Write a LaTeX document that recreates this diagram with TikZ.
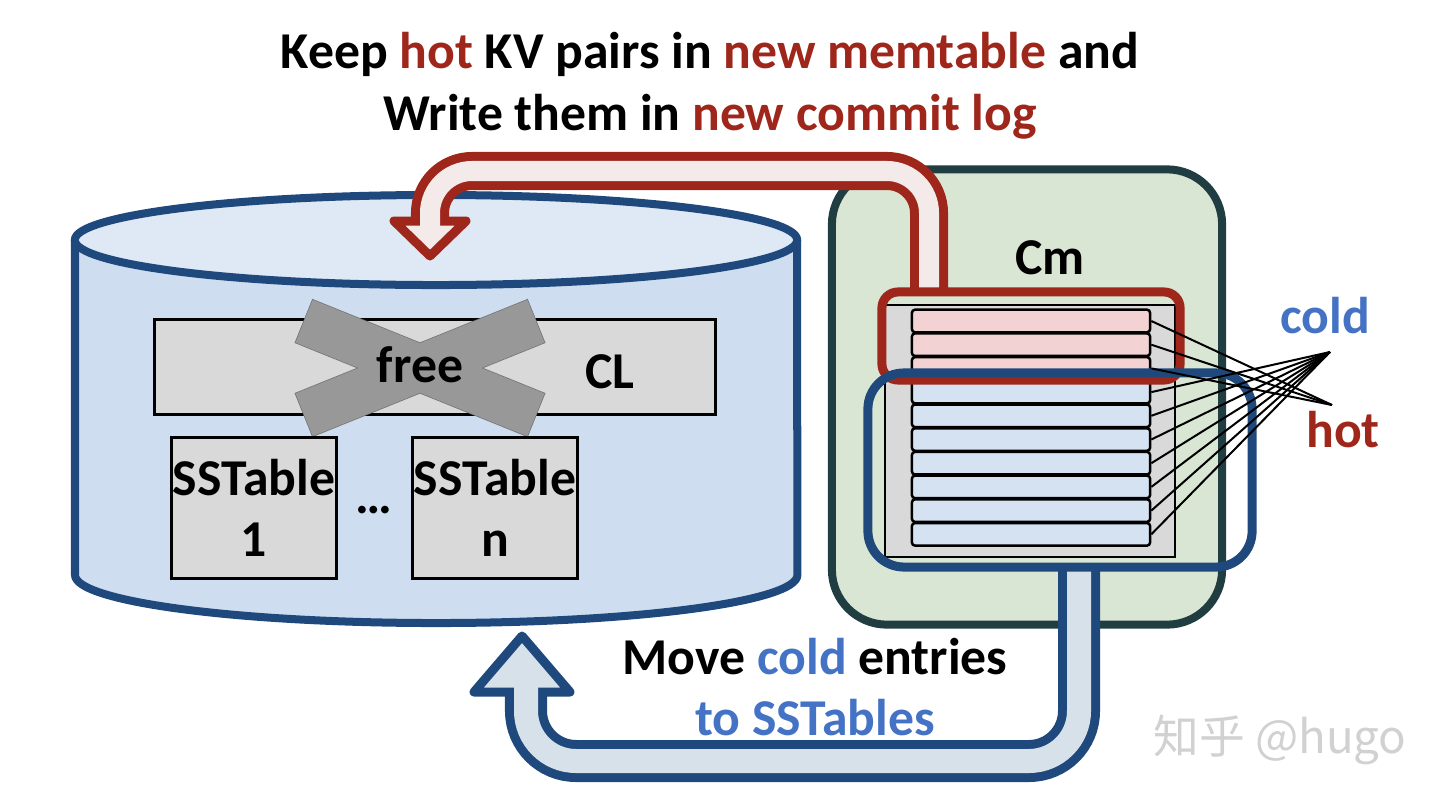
\documentclass[tikz,border=0pt]{standalone}
\usepackage{fontspec}
\setmainfont{Carlito}
\newfontfamily\cjk{Noto Sans CJK SC}
\usepackage{xcolor}
\usepackage{tikz}
\usetikzlibrary{positioning}
\definecolor{navy}{RGB}{31,73,125}
\definecolor{cylfill}{RGB}{206,222,240}
\definecolor{cyltopfill}{RGB}{222,233,245}
\definecolor{boxgray}{RGB}{217,217,217}
\definecolor{xgray}{RGB}{152,152,152}
\definecolor{cmline}{RGB}{32,62,66}
\definecolor{cmfill}{RGB}{218,230,212}
\definecolor{hotred}{RGB}{158,38,26}
\definecolor{pinkrow}{RGB}{242,210,210}
\definecolor{bluerow}{RGB}{212,226,242}
\definecolor{redin}{RGB}{244,234,234}
\definecolor{bluein}{RGB}{214,225,233}
\definecolor{coldblue}{RGB}{68,114,196}

\begin{document}
\begin{tikzpicture}[x=0.01cm, y=-0.01cm,
  font=\bfseries\fontsize{14.7}{17.5}\selectfont,
  lbl/.style={inner sep=0pt, align=center},
  cylline/.style={draw=navy, line width=0.08cm, line join=round},
  clbox/.style={rectangle, draw, line width=0.03cm, fill=boxgray, inner sep=0pt},
  crossbar/.style={draw=black!55, line width=0.015cm},
  sstbox/.style={rectangle, draw, line width=0.03cm, fill=boxgray, inner sep=0pt,
                 minimum width=1.64cm, minimum height=1.40cm, align=center},
  cmbox/.style={rectangle, rounded corners=0.55cm, draw=cmline, fill=cmfill,
                line width=0.08cm},
  membg/.style={rectangle, draw, fill=boxgray, line width=0.02cm, inner sep=0pt},
  hotrow/.style={rectangle, rounded corners=0.03cm, draw, fill=pinkrow,
                 line width=0.025cm, minimum width=2.38cm, minimum height=0.225cm, inner sep=0pt},
  coldrow/.style={hotrow, fill=bluerow},
  hotbox/.style={rectangle, rounded corners=0.16cm, draw=hotred, line width=0.09cm, inner sep=0pt},
  coldbox/.style={rectangle, rounded corners=0.36cm, draw=navy, line width=0.09cm, inner sep=0pt},
  hotpipe/.style={draw=hotred, line width=0.38cm, rounded corners=0.42cm},
  hotpipein/.style={draw=redin, line width=0.2cm, rounded corners=0.42cm},
  hothead/.style={draw=hotred, fill=redin, line width=0.09cm, line join=round},
  coldpipe/.style={draw=navy, line width=0.42cm, rounded corners=0.5cm},
  coldpipein/.style={draw=bluein, line width=0.24cm, rounded corners=0.5cm},
  coldhead/.style={draw=navy, fill=bluein, line width=0.09cm, line join=round},
  fan/.style={draw, line width=0.02cm},
  wmark/.style={inner sep=0pt, text=black!18, font=\cjk\fontsize{13}{15}\selectfont}]

  \useasboundingbox (0,0) rectangle (1440,809);

  % disk: commit log and sstables
  \draw[cylline, fill=cylfill] (75,240) -- (75,575) arc[start angle=180, end angle=360,
        x radius=3.61cm, y radius=0.48cm] -- (797,240);
  \draw[cylline, fill=cyltopfill] (436,240) ellipse (3.61cm and 0.45cm);

  \node[clbox, minimum width=5.6cm, minimum height=0.95cm] (cl) at (435,367) {};
  \begin{scope}[shift={(420,368)}]
    \foreach \a in {22,-22}
      \draw[crossbar, rotate=\a] (-125,-23) rectangle (125,23);
    \foreach \a in {22,-22}
      \fill[xgray, rotate=\a] (-125,-23) rectangle (125,23);
  \end{scope}
  \node[lbl] (free) at (420,365) {free};
  \node[lbl] (cltext) at (610,372) {CL};

  \node[sstbox] (sst1) at (254,508) {SSTable\\1};
  \node[sstbox] (sstn) at (495,508) {SSTable\\n};
  \node[lbl] (dots) at (374,510) {\ldots};

  % memory: Cm
  \node[cmbox, minimum width=3.9cm, minimum height=4.55cm] (cm) at (1027,397) {};
  \node[lbl] (cmtext) at (1050,258) {Cm};
  \node[membg, minimum width=2.9cm, minimum height=2.52cm] (mem) at (1030,431) {};
  \foreach \i in {0,1,2}
    \node[hotrow] (row\i) at (1031,{321+23.7*\i}) {};
  \foreach \i in {3,...,9}
    \node[coldrow] (row\i) at (1031,{321+23.7*\i}) {};

  % hot entries back to the new commit log
  \coordinate (hotup) at (929,292);
  \coordinate (cltip) at (430,256);
  \draw[hotpipe] (hotup) |- (430,171) -- (430,222);
  \filldraw[hothead] (394,221) -- (466,221) -- (cltip) -- cycle;
  \draw[hotpipein] (hotup) |- (430,171) -- (430,227);

  % cold entries down to the sstables
  \coordinate (colddown) at (1079,567);
  \coordinate (cyltip) at (522,636);
  \draw[coldpipe] (colddown) |- (526,761) -- (526,688);
  \filldraw[coldhead] (474,692) -- (570,692) -- (cyltip) -- cycle;
  \draw[coldpipein] (colddown) |- (526,761) -- (526,683);

  \node[hotbox, minimum width=2.98cm, minimum height=0.88cm] (hotgrp) at (1031,336) {};
  \node[coldbox, minimum width=3.84cm, minimum height=1.94cm] (coldgrp) at (1060,470) {};

  \coordinate (coldpt) at (1330,352);
  \coordinate (hotpt) at (1332,405);
  \foreach \i in {0,1,2}
    \draw[fan] (row\i.east) -- (hotpt);
  \foreach \i in {3,...,9}
    \draw[fan] (row\i.east) -- (coldpt);
  \node[lbl, text=coldblue] (coldtext) at (1325,316) {cold};
  \node[lbl, text=hotred] (hottext) at (1343,430) {hot};

  % captions
  \node[lbl] (topcap) at (710,86) {Keep \textcolor{hotred}{hot} KV pairs in
        \textcolor{hotred}{new memtable} and\\Write them in \textcolor{hotred}{new commit log}};
  \node[lbl] (botcap) at (815,687) {Move \textcolor{coldblue}{cold} entries\\
        \textcolor{coldblue}{to SSTables}};

  \node[wmark] (wm) at (1280,740) {知乎 @hugo};
\end{tikzpicture}
\end{document}
